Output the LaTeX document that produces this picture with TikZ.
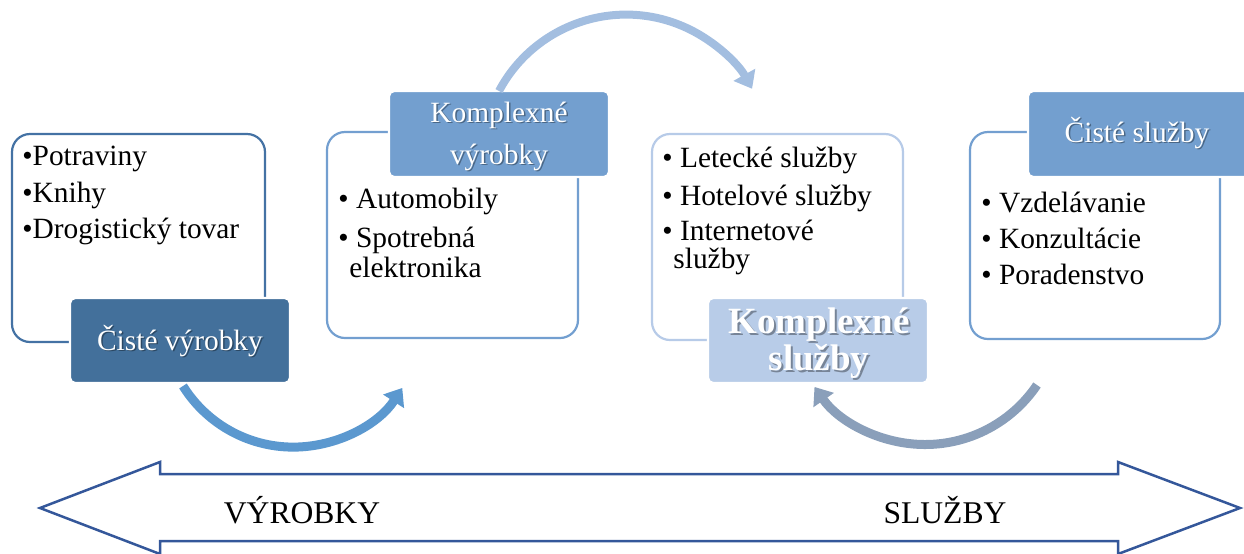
\documentclass[tikz,border=0pt]{standalone}
\usepackage{fontspec}
\setmainfont{Liberation Serif}
\usetikzlibrary{arrows.meta,calc}

\definecolor{frameA}{HTML}{4472A4}
\definecolor{fillA}{HTML}{43709B}
\definecolor{frameB}{HTML}{739FD0}
\definecolor{fillB}{HTML}{739FCF}
\definecolor{frameC}{HTML}{B7CBE8}
\definecolor{fillC}{HTML}{B8CCE8}
\definecolor{flowA}{HTML}{5B98CF}
\definecolor{flowB}{HTML}{A3BEE0}
\definecolor{flowC}{HTML}{8A9FBA}
\definecolor{axisblue}{HTML}{34579A}

\tikzset{
  outbox/.style={rectangle, rounded corners=9pt, line width=1.1pt, fill=white,
                 anchor=north west, inner sep=0pt, outer sep=0pt},
  lblbox/.style={rectangle, rounded corners=2.5pt, draw=white, line width=1.2pt,
                 anchor=north west, inner sep=0pt, outer sep=0pt},
  item/.style={anchor=base west, inner sep=0pt, font=\fontsize{14.7}{17}\selectfont},
  lbltext/.style={anchor=base, inner sep=0pt, text=white, font=\fontsize{14.7}{17}\selectfont},
  lblshadow/.style={anchor=base, inner sep=0pt, text=black, opacity=0.35,
                    font=\fontsize{14.7}{17}\selectfont},
  boldlbl/.style={font=\fontsize{18.5}{22}\selectfont\bfseries},
  flow/.style={line width=4.5pt, -{Triangle[width=12pt,length=8pt]}},
  axis/.style={draw=axisblue, line width=1.25pt, line join=miter},
  axislabel/.style={anchor=base, inner sep=0pt, font=\fontsize{15.8}{18}\selectfont}
}

\begin{document}
\begin{tikzpicture}[x=0.5pt,y=-0.5pt]
\useasboundingbox (0,0) rectangle (1244,553);

% content frames
\node[outbox, draw=frameA, minimum width=126.5pt, minimum height=104pt] (b1) at (12,134) {};
\node[outbox, draw=frameB, minimum width=125.5pt, minimum height=103pt] (b2) at (327,132) {};
\node[outbox, draw=frameC, minimum width=125.5pt, minimum height=103pt] (b3) at (652,134) {};
\node[outbox, draw=frameB, minimum width=125pt, minimum height=103.5pt] (b4) at (970,132) {};

% title tabs
\node[lblbox, fill=fillA, minimum width=110pt, minimum height=42.5pt] (l1) at (70,298) {};
\node[lblbox, fill=fillB, minimum width=110pt, minimum height=43pt] (l2) at (389,91) {};
\node[lblbox, fill=fillC, minimum width=110pt, minimum height=42.5pt] (l3) at (708,298) {};
\node[lblbox, fill=fillB, minimum width=112pt, minimum height=43pt] (l4) at (1028,91) {};

% tab titles with soft shadow
\node[lblshadow] (s1) at (181.5,351.5) {Čisté výrobky};
\node[lbltext] (t1) at (180,350) {Čisté výrobky};
\node[lblshadow] (s2a) at (500.5,123.5) {Komplexné};
\node[lbltext] (t2a) at (499,122) {Komplexné};
\node[lblshadow] (s2b) at (500.5,165.5) {výrobky};
\node[lbltext] (t2b) at (499,164) {výrobky};
\node[lblshadow, boldlbl] (s3a) at (821,335) {Komplexné};
\node[lbltext, boldlbl] (t3a) at (819,333) {Komplexné};
\node[lblshadow, boldlbl] (s3b) at (821,372) {služby};
\node[lbltext, boldlbl] (t3b) at (819,370) {služby};
\node[lblshadow] (s4) at (1138.5,143.5) {Čisté služby};
\node[lbltext] (t4) at (1137,142) {Čisté služby};

% frame contents
\node[item] (i1a) at (22,165) {•Potraviny};
\node[item] (i1b) at (22,202) {•Knihy};
\node[item] (i1c) at (22,238) {•Drogistický tovar};

\node[item] (i2a) at (338,208) {• Automobily};
\node[item] (i2b) at (338,247) {• Spotrebná};
\node[item] (i2c) at (349,277) {elektronika};

\node[item] (i3a) at (662,167) {• Letecké služby};
\node[item] (i3b) at (662,205) {• Hotelové služby};
\node[item] (i3c) at (662,240) {• Internetové};
\node[item] (i3d) at (673,268) {služby};

\node[item] (i4a) at (981,212) {• Vzdelávanie};
\node[item] (i4b) at (981,248) {• Konzultácie};
\node[item] (i4c) at (981,284) {• Poradenstvo};

% curved flow arrows
\coordinate (f1) at ($(l1.south)+(3,3)$);
\draw[flow, draw=flowA] (f1) arc[start angle=148, end angle=33, radius=130];
\draw[flow, draw=flowB, line width=4pt] (l2.north) arc[start angle=208, end angle=331, radius=144];
\coordinate (f3) at (1037,385);
\draw[flow, draw=flowC] (f3) arc[start angle=34, end angle=145, radius=135];

% double-headed axis
\draw[axis] (40,508) -- (160,462) -- (160,474) -- (1118,474) -- (1118,462)
  -- (1240,508) -- (1118,554) -- (1118,541) -- (160,541) -- (160,554) -- cycle;
\node[axislabel] (ax1) at (302,523) {VÝROBKY};
\node[axislabel] (ax2) at (945,523) {SLUŽBY};
\end{tikzpicture}
\end{document}
